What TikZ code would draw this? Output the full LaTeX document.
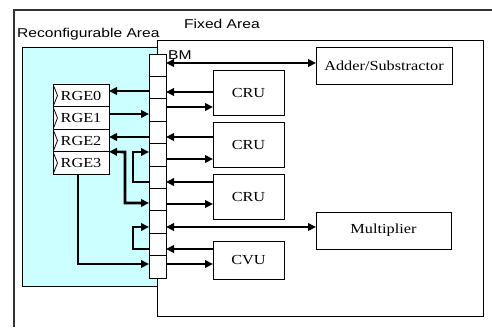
\documentclass[tikz,border=0pt]{standalone}
\usepackage{fontspec}
\setmainfont{Liberation Serif}[FakeStretch=1.18]
\newfontfamily\sansf{Liberation Sans}[FakeStretch=1.22]
\usetikzlibrary{arrows.meta}
\definecolor{recon}{RGB}{204,255,255}
\begin{document}
\begin{tikzpicture}[x=1pt,y=-1pt,
  box/.style={draw=black,line width=0.9pt,fill=white,inner sep=0pt,outer sep=0pt,
    font=\fontsize{13.8}{15}\selectfont},
  cell/.style={draw=black,line width=0.8pt,fill=white,inner sep=0pt,outer sep=0pt,
    minimum width=17pt,minimum height=22.4pt,anchor=north west},
  rge/.style={box,minimum width=56pt,minimum height=22.5pt,
    path picture={\draw[line width=0.8pt] (path picture bounding box.north west)
      -- ([xshift=4.5pt]path picture bounding box.west)
      -- (path picture bounding box.south west);}},
  unit/.style={box,minimum width=71pt,minimum height=45pt},
  lbl/.style={inner sep=0pt,anchor=base west,font=\sansf\fontsize{12.8}{14}\selectfont},
  arr/.style={line width=2.6pt,-{Triangle[length=8pt,width=7.5pt]}},
  darr/.style={line width=2.6pt,{Triangle[length=8pt,width=7.5pt]}-{Triangle[length=8pt,width=7.5pt]}},
  ln/.style={line width=2.6pt}
]
\useasboundingbox (0,0) rectangle (492,327);
% outer frame
\draw[line width=1.1pt,black!80] (14,327) -- (14,10) -- (492,10);
% fixed area
\node[draw=black,line width=0.9pt,inner sep=0pt,outer sep=0pt,anchor=north west,
  minimum width=326pt,minimum height=276pt] (fixed) at (157,40) {};
% reconfigurable area
\node[draw=black,line width=0.9pt,fill=recon,inner sep=0pt,outer sep=0pt,anchor=north west,
  minimum width=135pt,minimum height=239pt] (recon) at (22,47) {};
\node[lbl] (tRecon) at (17,37) {Reconfigurable Area};
\node[lbl] (tFixed) at (184,28) {Fixed Area};
\node[lbl] (tBM) at (168,59) {BM};
% BM cells
\foreach \i in {1,...,10} {
  \node[cell] (bm\i) at (149,{54+(\i-1)*22.4}) {};
}
% units
\node[box,minimum width=136pt,minimum height=37pt] (adder) at (384,65.5) {Adder/Substractor};
\node[unit] (cru1) at (248.5,92.5) {CRU};
\node[unit] (cru2) at (248.5,144.5) {CRU};
\node[unit] (cru3) at (248.5,196.5) {CRU};
\node[box,minimum width=135pt,minimum height=37pt] (mult) at (383.5,230.5) {Multiplier};
\node[unit,minimum height=38pt] (cvu) at (248.5,260) {CVU};
% RGE
\node[rge] (rge0) at (81,95.5) {RGE0};
\node[rge] (rge1) at (81,118) {RGE1};
\node[rge] (rge2) at (81,140.5) {RGE2};
\node[rge] (rge3) at (81,163) {RGE3};
% right-side connectors
\draw[darr] (bm1.east |- 0,63) -- (adder.west |- 0,63);
\draw[arr] (cru1.west |- 0,92) -- (bm2.east |- 0,92);
\draw[arr] (bm3.east |- 0,107) -- (cru1.west |- 0,107);
\draw[arr] (cru2.west |- 0,137) -- (bm4.east |- 0,137);
\draw[arr] (bm5.east |- 0,159) -- (cru2.west |- 0,159);
\draw[arr] (cru3.west |- 0,182) -- (bm6.east |- 0,182);
\draw[arr] (bm7.east |- 0,204) -- (cru3.west |- 0,204);
\draw[darr] (bm8.east |- 0,227) -- (mult.west |- 0,227);
\draw[arr] (cvu.west |- 0,249) -- (bm9.east |- 0,249);
\draw[arr] (bm10.east |- 0,264) -- (cvu.west |- 0,264);
% left-side connectors
\draw[arr] (bm2.west |- 0,91) -- (rge0.east |- 0,91);
\draw[arr] (rge1.east |- 0,114) -- (bm3.west |- 0,114);
\draw[arr] (bm4.west |- 0,137) -- (rge2.east |- 0,137);
\draw[darr] (bm7.west |- 0,203) -- (125,203) -- (125,152) -- (rge2.south east);
\draw[arr] (bm6.west |- 0,182) -- (133,182) -- (133,152) -- (bm5.west |- 0,152);
\draw[arr] (bm9.west |- 0,249) -- (133,249) -- (133,227) -- (bm8.west |- 0,227);
\draw[arr] (rge3.south -| 78,0) -- (78,264) -- (bm10.west |- 0,264);
\end{tikzpicture}
\end{document}
